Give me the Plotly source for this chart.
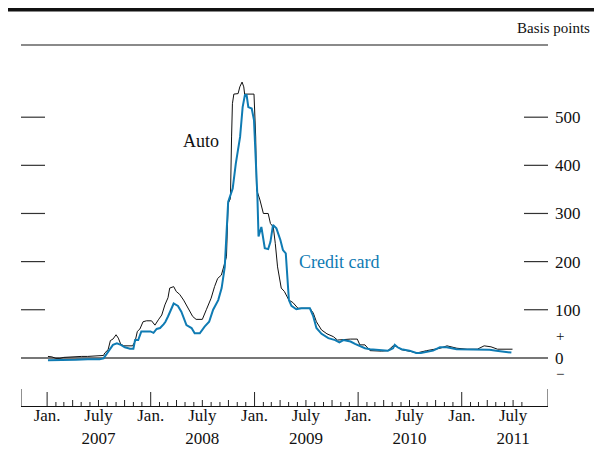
import plotly.graph_objects as go
import pandas as pd

# ---------------- data ----------------
auto_dates = [
    "2007-01-04", "2007-01-18", "2007-02-01", "2007-02-15", "2007-03-01", "2007-03-22",
    "2007-04-12", "2007-05-03", "2007-05-24", "2007-06-14", "2007-07-05", "2007-07-19",
    "2007-07-23", "2007-08-04", "2007-08-12", "2007-08-21", "2007-09-01", "2007-09-09",
    "2007-09-17", "2007-09-28", "2007-10-29", "2007-11-07", "2007-11-15", "2007-11-24",
    "2007-12-05", "2007-12-17", "2008-01-04", "2008-01-16", "2008-01-28", "2008-02-09",
    "2008-02-20", "2008-03-02", "2008-03-08", "2008-03-22", "2008-03-31", "2008-04-12",
    "2008-04-26", "2008-05-11", "2008-05-28", "2008-06-09", "2008-07-01", "2008-07-15",
    "2008-08-01", "2008-08-13", "2008-08-24", "2008-09-06", "2008-09-18", "2008-09-24",
    "2008-09-30", "2008-10-08", "2008-10-12", "2008-10-15", "2008-10-20", "2008-11-04",
    "2008-11-10", "2008-11-18", "2008-11-24", "2008-11-27", "2008-12-30", "2009-01-05",
    "2009-01-08", "2009-01-20", "2009-02-01", "2009-02-18", "2009-02-26", "2009-03-08",
    "2009-03-15", "2009-03-23", "2009-04-05", "2009-04-16", "2009-05-02", "2009-05-16",
    "2009-06-03", "2009-07-15", "2009-07-27", "2009-08-07", "2009-08-25", "2009-09-13",
    "2009-10-06", "2009-10-20", "2009-12-05", "2009-12-29", "2010-01-07", "2010-01-25",
    "2010-02-12", "2010-03-24", "2010-04-16", "2010-05-04", "2010-05-16", "2010-06-03",
    "2010-07-08", "2010-07-26", "2010-08-30", "2010-09-23", "2010-10-17", "2010-11-10",
    "2010-12-15", "2011-01-20", "2011-02-25", "2011-03-21", "2011-04-14", "2011-05-07",
    "2011-06-29",
]
auto_values = [
    3, 2, -1, -1, 1, 2,
    2, 3, 3, 4, 4, 5,
    10, 17, 36, 39, 48, 41,
    29, 25, 25, 34, 55, 60,
    75, 77, 77, 68, 79, 89,
    110, 125, 145, 148, 138, 132,
    120, 103, 86, 80, 80, 100,
    124, 148, 165, 172, 196, 210,
    321, 331, 459, 528, 548, 549,
    563, 573, 563, 548, 548, 459,
    350, 328, 300, 300, 279, 272,
    238, 189, 145, 138, 120, 115,
    103, 103, 93, 75, 58, 50,
    44, 37, 39, 39, 27, 27,
    15, 14, 15, 25, 24, 17,
    13, 10, 15, 18, 20, 25,
    20, 18, 18, 25, 23, 18,
    18,
]

card_dates = [
    "2007-01-04", "2007-02-01", "2007-03-01", "2007-04-12", "2007-05-24", "2007-07-05",
    "2007-07-19", "2007-08-04", "2007-08-21", "2007-09-04", "2007-09-18", "2007-10-02",
    "2007-10-20", "2007-11-01", "2007-11-07", "2007-11-18", "2007-11-29", "2007-12-31",
    "2008-01-11", "2008-01-22", "2008-02-03", "2008-02-16", "2008-02-22", "2008-03-02",
    "2008-03-08", "2008-03-22", "2008-04-06", "2008-04-18", "2008-05-06", "2008-05-24",
    "2008-06-04", "2008-06-22", "2008-07-09", "2008-07-25", "2008-08-08", "2008-08-26",
    "2008-09-07", "2008-09-18", "2008-09-30", "2008-10-16", "2008-10-27", "2008-11-11",
    "2008-11-20", "2008-11-28", "2008-12-04", "2008-12-10", "2008-12-22", "2008-12-30",
    "2009-01-11", "2009-01-15", "2009-01-25", "2009-02-06", "2009-02-18", "2009-02-26",
    "2009-03-07", "2009-03-19", "2009-04-02", "2009-04-11", "2009-04-21", "2009-04-29",
    "2009-05-02", "2009-05-11", "2009-05-28", "2009-06-15", "2009-07-15", "2009-07-27",
    "2009-08-07", "2009-08-25", "2009-09-18", "2009-10-12", "2009-10-27", "2009-11-10",
    "2009-12-05", "2009-12-21", "2010-01-08", "2010-01-25", "2010-02-12", "2010-03-23",
    "2010-04-16", "2010-05-04", "2010-05-10", "2010-05-20", "2010-06-03", "2010-07-01",
    "2010-07-25", "2010-08-10", "2010-08-30", "2010-09-22", "2010-10-16", "2010-11-09",
    "2010-12-14", "2011-01-19", "2011-02-23", "2011-03-16", "2011-04-09", "2011-05-03",
    "2011-06-25",
]
card_values = [
    -5, -5, -4, -4, -3, -3,
    -1, 13, 27, 30, 27, 22,
    19, 19, 37, 37, 55, 55,
    52, 60, 62, 70, 75, 86,
    95, 113, 108, 96, 68, 62,
    51, 51, 65, 75, 100, 120,
    145, 189, 324, 352, 404, 459,
    521, 546, 546, 521, 518, 494,
    335, 252, 272, 228, 226, 241,
    276, 269, 245, 224, 217, 155,
    120, 108, 101, 103, 103, 86,
    62, 50, 41, 37, 32, 37,
    34, 29, 25, 20, 18, 17,
    15, 20, 27, 22, 18, 15,
    10, 10, 13, 15, 22, 22,
    18, 18, 18, 18, 17, 15,
    11,
]

y_tick_values = [0, 100, 200, 300, 400, 500]
y_tick_labels = ["0", "100", "200", "300", "400", "500"]
x_label_dates = ["2007-01-01", "2007-07-01", "2008-01-01", "2008-07-01", "2009-01-01",
                 "2009-07-01", "2010-01-01", "2010-07-01", "2011-01-01", "2011-07-01"]
x_label_text = ["Jan.", "July<br>2007", "Jan.", "July<br>2008", "Jan.", "July<br>2009",
                "Jan.", "July<br>2010", "Jan.", "July<br>2011"]

# ---------------- figure ----------------
FONT = "Liberation Serif, Times New Roman, serif"
BLUE = "#0f7bb3"

fig = go.Figure()
fig.add_trace(go.Scatter(x=pd.to_datetime(auto_dates), y=auto_values, mode="lines",
                         line=dict(color="#111111", width=1), name="Auto",
                         showlegend=False))
fig.add_trace(go.Scatter(x=pd.to_datetime(card_dates), y=card_values, mode="lines",
                         line=dict(color=BLUE, width=2), name="Credit card",
                         showlegend=False))

shapes = []
# top rules
shapes.append(dict(type="line", xref="paper", yref="paper", x0=-0.03, x1=1.11,
                   y0=1.0975, y1=1.0975, line=dict(color="#111111", width=3.5)))
shapes.append(dict(type="line", xref="paper", yref="paper", x0=0, x1=1,
                   y0=1, y1=1, line=dict(color="#8a8a8a", width=2)))

# x-axis tick marks (monthly small, quarterly medium, January tall)
months = pd.date_range("2007-01-01", "2011-08-01", freq="MS")
for m in months:
    if m.month == 1:
        ln = 14
    elif m.month in (4, 7, 10):
        ln = 6
    else:
        ln = 4
    shapes.append(dict(type="line", xref="x", yref="paper", ysizemode="pixel",
                       yanchor=0, x0=m, x1=m, y0=0, y1=ln,
                       line=dict(color="#222222", width=1)))
for edge in ["2006-10-01", "2011-11-01"]:
    shapes.append(dict(type="line", xref="x", yref="paper", ysizemode="pixel",
                       yanchor=0, x0=edge, x1=edge, y0=0, y1=17,
                       line=dict(color="#222222", width=1)))

# y-axis tick marks on both sides, inside the panel
for v in y_tick_values[1:]:
    shapes.append(dict(type="line", xref="paper", yref="y", xsizemode="pixel",
                       xanchor=0, x0=0, x1=24, y0=v, y1=v,
                       line=dict(color="#333333", width=1.2)))
    shapes.append(dict(type="line", xref="paper", yref="y", xsizemode="pixel",
                       xanchor=1, x0=-24, x1=0, y0=v, y1=v,
                       line=dict(color="#333333", width=1.2)))

annotations = [
    dict(text="Basis points", xref="paper", yref="paper", x=1.0835, y=1.047,
         xanchor="right", yanchor="middle", showarrow=False,
         font=dict(family=FONT, size=15, color="#111111")),
    dict(text="Auto", x="2008-06-25", y=450, xanchor="center", yanchor="middle",
         showarrow=False, font=dict(family=FONT, size=18, color="#111111")),
    dict(text="Credit card", x="2009-10-25", y=199, xanchor="center", yanchor="middle",
         showarrow=False, font=dict(family=FONT, size=18, color=BLUE)),
    dict(text="+", xref="paper", yref="y", x=1.0225, y=45, xanchor="center",
         yanchor="middle", showarrow=False, font=dict(family=FONT, size=15, color="#111111")),
    dict(text="\u2212", xref="paper", yref="y", x=1.0225, y=-33, xanchor="center",
         yanchor="middle", showarrow=False, font=dict(family=FONT, size=15, color="#111111")),
]

fig.update_layout(
    width=594, height=446,
    margin=dict(l=13, r=54, t=37, b=48, autoexpand=False),
    paper_bgcolor="white", plot_bgcolor="white",
    font=dict(family=FONT, size=17, color="#111111"),
    shapes=shapes, annotations=annotations,
    xaxis=dict(type="date", range=["2006-10-01", "2011-11-01"], automargin=False,
               showgrid=False, zeroline=False, showline=True,
               linecolor="#111111", linewidth=1, ticks="",
               tickmode="array", tickvals=x_label_dates, ticktext=x_label_text,
               tickfont=dict(family=FONT, size=17, color="#111111"),
               ticklabelstandoff=-6),
    yaxis=dict(range=[-100, 650], side="right", showgrid=False, automargin=False,
               zeroline=True, zerolinecolor="#777777", zerolinewidth=1.5,
               showline=False, ticks="", tickmode="array",
               tickvals=y_tick_values, ticktext=y_tick_labels,
               tickfont=dict(family=FONT, size=17, color="#111111"),
               ticklabelstandoff=6),
)

fig.write_html("out.html")
